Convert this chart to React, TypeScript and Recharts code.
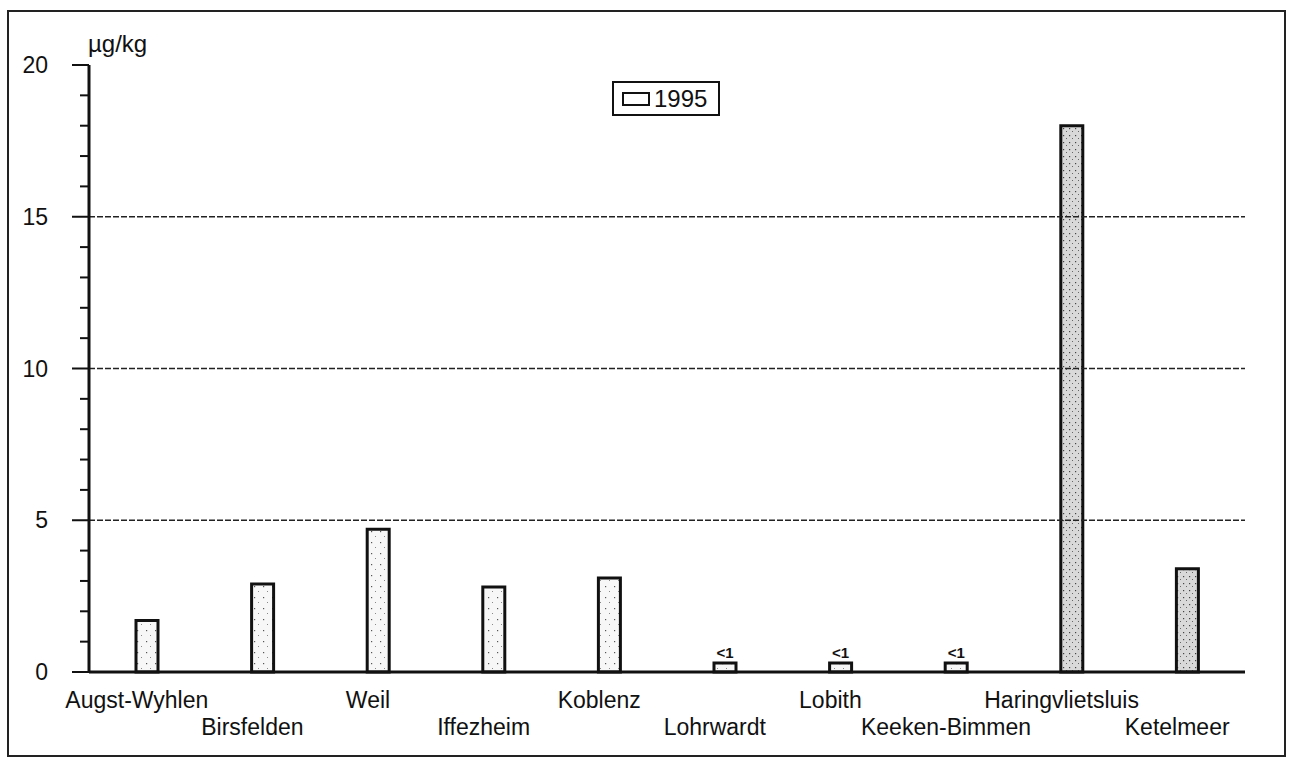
import React from "react";
import {
  BarChart,
  Bar,
  XAxis,
  YAxis,
  Legend,
  ReferenceLine,
  LabelList,
  Cell,
  Label,
} from "recharts";

const stations = [
  "Augst-Wyhlen",
  "Birsfelden",
  "Weil",
  "Iffezheim",
  "Koblenz",
  "Lohrwardt",
  "Lobith",
  "Keeken-Bimmen",
  "Haringvlietsluis",
  "Ketelmeer",
];
const values1995 = [1.7, 2.9, 4.7, 2.8, 3.1, 0.3, 0.3, 0.3, 18.0, 3.4];
const valueNotes = ["", "", "", "", "", "<1", "<1", "<1", "", ""];
const yTicks = Array.from({ length: 21 }, (_, i) => i);
const gridValues = [5, 10, 15];
const seriesName = "1995";
const unitLabel = "µg/kg";

const data = stations.map((name, i) => ({
  name,
  value: values1995[i],
  note: valueNotes[i],
}));

const FONT = '"Liberation Sans", Arial, sans-serif';
const INK = "#111";
const SHADED = new Set(["Haringvlietsluis", "Ketelmeer"]);

// y ticks: long tick + label every 5, short tick on the rest
const YTick = (props: any) => {
  const { x, y, payload } = props;
  const major = payload.value % 5 === 0;
  return (
    <g>
      <line x1={x - (major ? 17 : 9)} x2={x} y1={y} y2={y} stroke={INK} strokeWidth={2} />
      {major && (
        <text x={x - 41} y={y} dy={8} textAnchor="end" fontFamily={FONT} fontSize={23} fill={INK}>
          {payload.value}
        </text>
      )}
    </g>
  );
};

// station names alternate between two rows
const XTick = (props: any) => {
  const { x, y, payload, index } = props;
  return (
    <text
      x={x - 10}
      y={y + (index % 2 ? 63 : 36)}
      textAnchor="middle"
      fontFamily={FONT}
      fontSize={23}
      fill={INK}
    >
      {payload.value}
    </text>
  );
};

const LegendBox = () => (
  <div
    style={{
      display: "flex",
      alignItems: "center",
      border: `2px solid ${INK}`,
      width: 108,
      height: 35,
      boxSizing: "border-box",
      padding: "0 0 0 8px",
      background: "#fff",
      fontFamily: FONT,
      fontSize: 24,
      color: INK,
    }}
  >
    <span
      style={{
        display: "inline-block",
        width: 24,
        height: 10,
        border: `2px solid ${INK}`,
        background: "#fff",
        marginRight: 4,
      }}
    />
    {seriesName}
  </div>
);

export default function App() {
  return (
    <div style={{ position: "absolute", left: 0, top: 0, width: 1293, height: 764, background: "#fff" }}>
      <div
        style={{
          position: "absolute",
          left: 7,
          top: 10,
          width: 1279,
          height: 747,
          border: "2px solid #222",
          boxSizing: "border-box",
        }}
      />
      <BarChart
        width={1293}
        height={764}
        data={data}
        margin={{ top: 65, right: 48, bottom: 22, left: 29 }}
        style={{ position: "absolute", left: 0, top: 0 }}
      >
        <defs>
          <pattern id="stippleLight" width="9" height="11" patternUnits="userSpaceOnUse">
            <rect width="9" height="11" fill="#f7f7f7" />
            <rect x="2" y="3" width="1.2" height="1.2" fill="#555" />
            <rect x="6" y="8" width="1" height="1" fill="#888" />
          </pattern>
          <pattern id="stippleGray" width="6" height="7" patternUnits="userSpaceOnUse">
            <rect width="6" height="7" fill="#d9d9d9" />
            <rect x="1" y="2" width="1.2" height="1.2" fill="#444" />
            <rect x="4" y="5" width="1" height="1" fill="#666" />
          </pattern>
        </defs>
        <XAxis
          dataKey="name"
          height={70}
          interval={0}
          tickSize={0}
          tickMargin={0}
          tickLine={false}
          axisLine={{ stroke: INK, strokeWidth: 3 }}
          tick={<XTick />}
        />
        <XAxis
          xAxisId="top"
          orientation="top"
          dataKey="name"
          height={0}
          tick={false}
          tickLine={false}
          axisLine={{ stroke: INK, strokeWidth: 3 }}
        />
        <YAxis
          width={60}
          domain={[0, 20]}
          ticks={yTicks}
          interval={0}
          tickSize={0}
          tickMargin={0}
          tickLine={false}
          axisLine={{ stroke: INK, strokeWidth: 3 }}
          tick={<YTick />}
        >
          <Label
            content={(p: any) => {
              const vb = p.viewBox || { x: 29, y: 65, width: 60 };
              return (
                <text x={vb.x + vb.width - 1} y={vb.y - 13} fontFamily={FONT} fontSize={24} fill={INK}>
                  {unitLabel}
                </text>
              );
            }}
          />
        </YAxis>
        <YAxis
          yAxisId="right"
          orientation="right"
          width={0}
          domain={[0, 20]}
          tick={false}
          tickLine={false}
          axisLine={{ stroke: INK, strokeWidth: 3 }}
        />
        {gridValues.map((v) => (
          <ReferenceLine key={v} y={v} stroke="#222" strokeWidth={1.3} strokeDasharray="6 2" />
        ))}
        <Legend
          layout="vertical"
          align="center"
          verticalAlign="middle"
          wrapperStyle={{ top: 81, left: 612, width: "auto", height: "auto" }}
          content={<LegendBox />}
        />
        <Bar
          dataKey="value"
          name={seriesName}
          barSize={22}
          stroke={INK}
          strokeWidth={3}
          isAnimationActive={false}
        >
          {data.map((d) => (
            <Cell key={d.name} fill={SHADED.has(d.name) ? "url(#stippleGray)" : "url(#stippleLight)"} />
          ))}
          <LabelList
            dataKey="note"
            position="top"
            offset={5}
            style={{ fontFamily: FONT, fontSize: 15, fontWeight: 700, fill: INK }}
          />
        </Bar>
      </BarChart>
    </div>
  );
}
